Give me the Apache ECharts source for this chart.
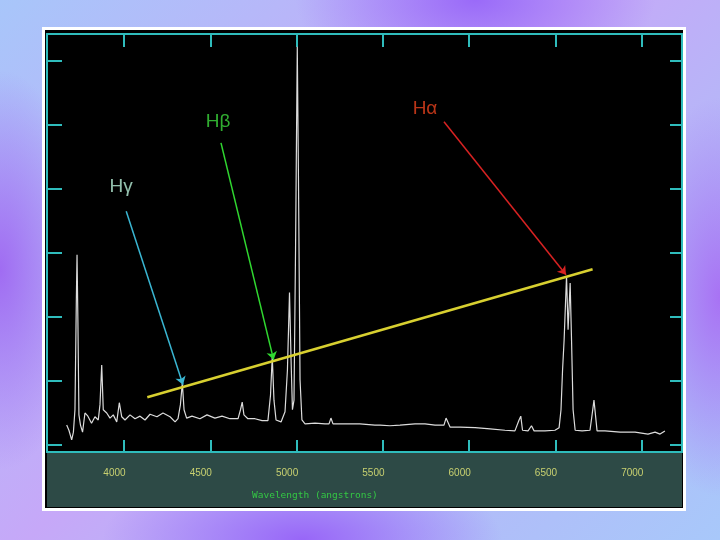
<!DOCTYPE html>
<html>
<head>
<meta charset="utf-8">
<script src="https://cdn.jsdelivr.net/npm/echarts@6/dist/echarts.min.js"></script>
<style>
  body { margin: 0; }
  #main {
    width: 720px; height: 540px;
    background:
      radial-gradient(ellipse 180px 90px at 66% 0%, #9a6af8 0%, rgba(154,106,248,0) 100%),
      radial-gradient(ellipse 90px 200px at 0% 50%, #a06cf2 0%, rgba(160,108,242,0) 100%),
      radial-gradient(ellipse 200px 80px at 42% 100%, #9866f8 0%, rgba(152,102,248,0) 100%),
      radial-gradient(ellipse 90px 200px at 100% 55%, #a872f4 0%, rgba(168,114,244,0) 100%),
      linear-gradient(135deg, #a8c6fa 0%, #c6a8f8 45%, #b4b8f8 70%, #a8c8fa 100%);
  }
</style>
</head>
<body>
<div id="main"></div>
<script>
// spectrum (wavelength in angstrom, flux in arbitrary units)
var wavelength = [3668, 3681, 3697, 3707, 3716, 3724, 3728, 3733, 3739, 3748, 3760, 3774, 3791, 3812, 3832, 3851, 3861, 3871, 3880, 3900,
  3919, 3938, 3958, 3973, 3987, 4006, 4035, 4064, 4093, 4122, 4151, 4191, 4226, 4267, 4296, 4313, 4327, 4338, 4348, 4363,
  4394, 4440, 4481, 4527, 4568, 4614, 4661, 4675, 4685, 4695, 4718, 4759, 4800, 4834, 4849, 4859, 4869, 4881, 4910, 4933,
  4947, 4959, 4968, 4976, 4985, 4994, 5004, 5011, 5020, 5031, 5049, 5107, 5165, 5188, 5199, 5211, 5281, 5367, 5454, 5483,
  5541, 5599, 5686, 5744, 5802, 5854, 5866, 5877, 5889, 5947, 6034, 6121, 6207, 6265, 6289, 6299, 6309, 6341, 6361, 6376,
  6439, 6497, 6521, 6532, 6541, 6550, 6564, 6573, 6585, 6593, 6602, 6614, 6654, 6700, 6712, 6723, 6732, 6741, 6787, 6874,
  6961, 7036, 7077, 7106, 7134];
var flux = [3.1, 2.3, 0.8, 2.0, 5.5, 22.7, 29.7, 19.5, 4.7, 3.1, 2.0, 5.0, 4.5, 3.4, 4.4, 3.9, 6.3, 12.5, 5.5, 5.0,
  4.2, 4.7, 3.6, 6.6, 4.4, 3.9, 4.7, 4.1, 4.5, 3.9, 4.8, 4.4, 5.0, 4.4, 3.6, 4.1, 6.3, 9.7, 5.5, 4.2,
  4.5, 4.1, 4.7, 4.2, 4.5, 4.1, 4.1, 5.5, 6.7, 4.7, 4.1, 4.1, 3.8, 3.8, 7.8, 13.8, 7.0, 3.9, 3.6, 5.2,
  11.7, 23.8, 13.3, 5.5, 7.0, 30.5, 62.2, 41.4, 10.2, 3.9, 3.3, 3.4, 3.3, 3.3, 4.2, 3.3, 3.3, 3.3, 3.1, 3.1,
  3.0, 3.1, 3.3, 3.3, 3.1, 3.1, 4.2, 4.4, 2.8, 2.8, 2.7, 2.5, 2.3, 2.2, 3.9, 4.5, 2.3, 2.2, 3.0, 2.2,
  2.2, 2.3, 2.7, 5.5, 11.7, 16.4, 26.4, 18.0, 25.3, 16.4, 5.5, 2.3, 2.2, 2.3, 4.7, 7.0, 6.7, 2.2, 2.2, 2.0,
  2.0, 1.7, 2.0, 1.7, 2.2];

// axis ticks
var xTicks = [4000, 4500, 5000, 5500, 6000, 6500, 7000];
var yTicks = [0, 10, 20, 30, 40, 50, 60];

// yellow line across the Balmer peaks
var guideLine = [[4135, 7.45], [6715, 27.45]];

// arrows and labels of the hydrogen lines
var lineNames = ['Hγ', 'Hβ', 'Hα'];
var lineColors = ['#3ab6d2', '#30d830', '#d82222'];
var textColors = ['#b8f0d8', '#3cd83c', '#e8421e'];
var arrowFrom = [[4013, 36.5], [4562, 47.2], [5854, 50.5]];
var arrowTo = [[4342, 9.4], [4867, 13.3], [6561, 26.6]];
var labelAt = [[3983, 40.3], [4545, 50.5], [5744, 52.5]];

var frameColor = '#2fbcbc';

var myChart = echarts.init(document.getElementById('main'));

var spectrum = wavelength.map(function (w, i) { return [w, flux[i]]; });

var arrows = lineNames.map(function (n, i) {
  return { coords: [arrowFrom[i], arrowTo[i]], lineStyle: { color: lineColors[i] } };
});
var labels = lineNames.map(function (n, i) {
  return { name: n, value: labelAt[i], label: { color: textColors[i] } };
});

function frameAxis(pos, ticks, len) {
  return {
    type: 'value',
    position: pos,
    min: pos === 'top' || pos === 'bottom' ? 3554 : -1.1,
    max: pos === 'top' || pos === 'bottom' ? 7233 : 64.2,
    axisLine: { show: true, onZero: false, lineStyle: { color: frameColor, width: 2 } },
    axisTick: { show: true, inside: true, length: len, customValues: ticks, lineStyle: { color: frameColor, width: 2 } },
    axisLabel: { show: false },
    splitLine: { show: false }
  };
}

var bottomAxis = frameAxis('bottom', xTicks, 12);
bottomAxis.axisLabel = {
  show: true,
  customValues: xTicks,
  formatter: function (v) { return String(v); },
  margin: 16,
  padding: [0, 19, 0, 0],
  color: '#c8d070',
  fontSize: 10,
  fontFamily: 'Liberation Sans'
};

var option = {
  animation: false,
  title: {
    text: 'Wavelength (angstrons)',
    left: 252,
    top: 491,
    padding: 0,
    textStyle: { color: '#34c844', fontSize: 9.5, fontWeight: 'normal', fontFamily: 'DejaVu Sans Mono' }
  },
  graphic: [
    { type: 'rect', z: -10, shape: { x: 43.5, y: 28.5, width: 641, height: 481 }, style: { fill: '#000', stroke: '#fff', lineWidth: 3 } },
    { type: 'rect', z: -9, shape: { x: 47, y: 453, width: 635, height: 54 }, style: { fill: '#2d4a46' } }
  ],
  grid: { left: 47, top: 34, width: 635, height: 418 },
  xAxis: [bottomAxis, frameAxis('top', xTicks, 13)],
  yAxis: [frameAxis('left', yTicks, 15), frameAxis('right', yTicks, 12)],
  series: [
    {
      name: 'spectrum',
      type: 'line',
      data: spectrum,
      symbol: 'none',
      lineStyle: { color: '#dcdcdc', width: 1.2 }
    },
    {
      name: 'guide',
      type: 'line',
      data: guideLine,
      symbol: 'none',
      lineStyle: { color: '#d8d030', width: 2.5 },
      z: 3
    },
    {
      type: 'lines',
      coordinateSystem: 'cartesian2d',
      data: arrows,
      symbol: ['none', 'arrow'],
      symbolSize: 8,
      lineStyle: { width: 1.5, opacity: 1 },
      z: 4
    },
    {
      type: 'scatter',
      data: labels,
      symbolSize: 0,
      label: {
        show: true,
        position: 'inside',
        formatter: '{b}',
        fontSize: 19,
        fontFamily: 'Liberation Sans'
      }
    }
  ]
};

myChart.setOption(option);
</script>
</body>
</html>
